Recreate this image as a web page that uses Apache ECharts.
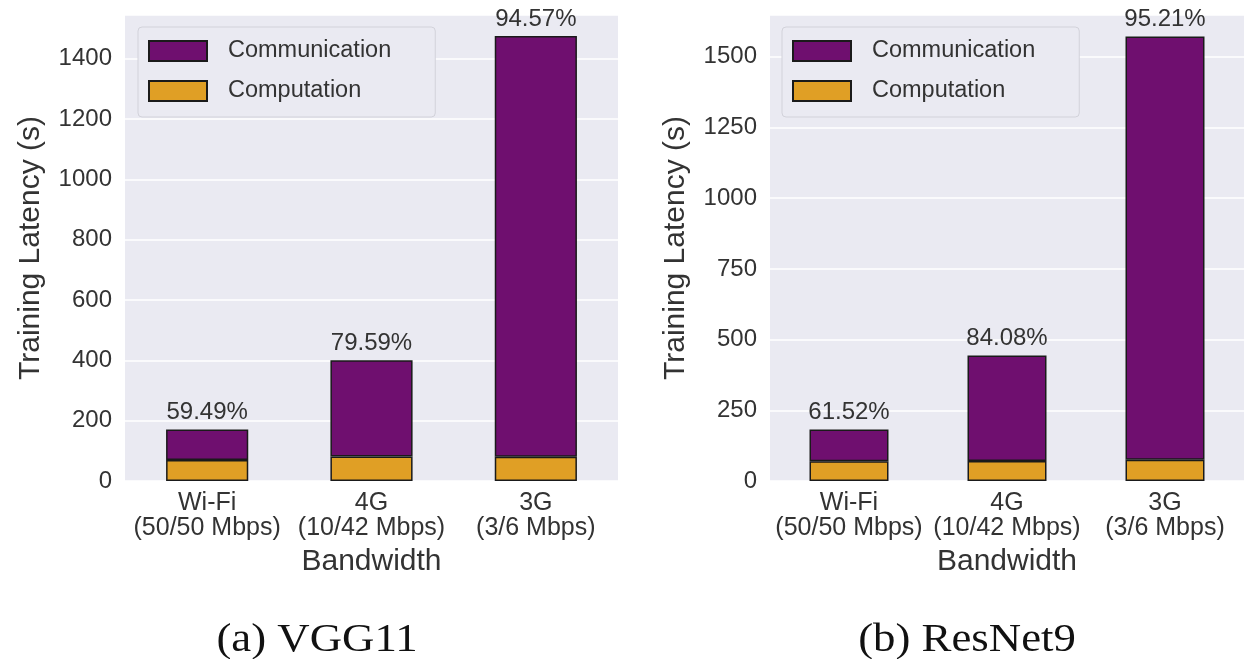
<!DOCTYPE html>
<html>
<head>
<meta charset="utf-8">
<script src="https://cdn.jsdelivr.net/npm/echarts@6/dist/echarts.min.js"></script>
<style>
  html, body { margin: 0; padding: 0; background: #ffffff; }
  #chart { width: 1244px; height: 659px; }
</style>
</head>
<body>
<div id="chart"></div>
<script>
// Bandwidth settings shown on the x axis
const categories = ['Wi-Fi\n(50/50 Mbps)', '4G\n(10/42 Mbps)', '3G\n(3/6 Mbps)'];

// VGG11 training latency split (seconds)
const vggComm = [101.73, 318.36, 1394.91];
const vggComp = [69.27, 81.64, 80.09];

// ResNet9 training latency split (seconds)
const resComm = [112.0, 373.3, 1496.7];
const resComp = [70.05, 70.7, 75.3];

// Y axis ranges and tick steps for the two panels
const vggAxis = { max: 1545, interval: 200 };
const resAxis = { max: 1648, interval: 250 };

const captions = ['(a) VGG11', '(b) ResNet9'];

const FONT = "'Liberation Sans', Arial, Helvetica, sans-serif";
const SERIF = "'Liberation Serif', 'Times New Roman', serif";
const TEXT = '#333333';
const PURPLE = '#6F0F6F';
const ORANGE = '#E09F25';
const EDGE = '#1a1a1a';

// share of communication in the total latency of one bar
function pct(comm, comp, i) {
  return (comm[i] / (comm[i] + comp[i]) * 100).toFixed(2) + '%';
}

function yAxisFor(idx, ax) {
  return {
    type: 'value', gridIndex: idx, min: 0, max: ax.max, interval: ax.interval,
    name: 'Training Latency (s)', nameLocation: 'middle', nameGap: 79,
    nameTextStyle: { fontFamily: FONT, fontSize: 30, color: TEXT },
    axisLine: { show: false }, axisTick: { show: false },
    axisLabel: {
      fontFamily: FONT, fontSize: 24, color: TEXT, margin: 13,
      formatter: v => (v % ax.interval === 0 ? String(v) : '')
    },
    splitLine: { lineStyle: { color: '#ffffff', width: 1.5 } }
  };
}

function xAxisFor(idx) {
  return {
    type: 'category', gridIndex: idx, data: categories,
    name: 'Bandwidth', nameLocation: 'middle', nameGap: 66,
    nameTextStyle: { fontFamily: FONT, fontSize: 30, color: TEXT },
    axisLine: { show: false }, axisTick: { show: false },
    axisLabel: { interval: 0, fontFamily: FONT, fontSize: 25, color: TEXT, margin: 10, lineHeight: 25 },
    splitLine: { show: false }
  };
}

function seriesFor(idx, comm, comp) {
  return [
    {
      name: 'Computation', type: 'bar', stack: 's' + idx,
      xAxisIndex: idx, yAxisIndex: idx, barWidth: '50%', data: comp,
      itemStyle: { color: ORANGE, borderColor: EDGE, borderWidth: 1.5 }
    },
    {
      name: 'Communication', type: 'bar', stack: 's' + idx,
      xAxisIndex: idx, yAxisIndex: idx, barWidth: '50%', data: comm,
      itemStyle: { color: PURPLE, borderColor: EDGE, borderWidth: 1.5 },
      label: {
        show: true, position: 'top', distance: 5,
        fontFamily: FONT, fontSize: 24, color: TEXT,
        formatter: p => pct(comm, comp, p.dataIndex)
      }
    }
  ];
}

function legendFor(left) {
  return {
    data: ['Communication', 'Computation'],
    orient: 'vertical', left: left, top: 27,
    icon: 'rect',
    backgroundColor: '#EAEAF2', borderColor: '#d2d2da', borderWidth: 1, borderRadius: 4,
    padding: [12, 44, 14, 10],
    itemWidth: 58, itemHeight: 20, itemGap: 16,
    selectedMode: false,
    textStyle: { fontFamily: FONT, fontSize: 23.5, color: TEXT, padding: [0, 0, 0, 16] }
  };
}

const chart = echarts.init(document.getElementById('chart'), null, { renderer: 'canvas' });

chart.setOption({
  backgroundColor: '#ffffff',
  animation: false,
  grid: [
    { left: 125, top: 15, width: 493, height: 466, show: true, backgroundColor: '#EAEAF2', borderWidth: 0 },
    { left: 770, top: 15, width: 494, height: 466, show: true, backgroundColor: '#EAEAF2', borderWidth: 0 }
  ],
  legend: [legendFor(138), legendFor(782)],
  xAxis: [xAxisFor(0), xAxisFor(1)],
  yAxis: [yAxisFor(0, vggAxis), yAxisFor(1, resAxis)],
  series: [].concat(seriesFor(0, vggComm, vggComp), seriesFor(1, resComm, resComp)),
  graphic: [
    { type: 'text', x: 317, y: 640, scaleX: 1.12,
      style: { text: captions[0], font: '40px ' + SERIF, fill: '#111111', align: 'center', verticalAlign: 'middle' } },
    { type: 'text', x: 967, y: 640, scaleX: 1.12,
      style: { text: captions[1], font: '40px ' + SERIF, fill: '#111111', align: 'center', verticalAlign: 'middle' } }
  ]
});
</script>
</body>
</html>
